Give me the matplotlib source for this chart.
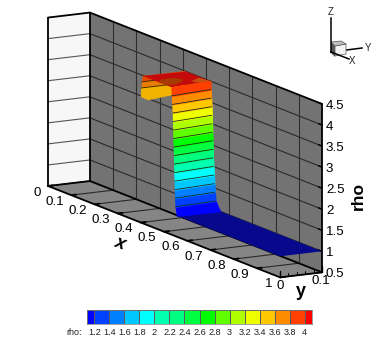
import matplotlib
matplotlib.use('Agg')
import matplotlib.pyplot as plt
from matplotlib.colors import ListedColormap
from mpl_toolkits.mplot3d import proj3d
from mpl_toolkits.mplot3d.art3d import Poly3DCollection

plt.rcParams['font.family'] = ['Liberation Sans', 'DejaVu Sans']

# axis ticks
x_ticks = [0, 0.1, 0.2, 0.3, 0.4, 0.5, 0.6, 0.7, 0.8, 0.9, 1]
x_labels = ['0', '0.1', '0.2', '0.3', '0.4', '0.5', '0.6', '0.7', '0.8', '0.9', '1']
y_minor = [0.02, 0.04, 0.06, 0.08]
z_ticks = [0.5, 1, 1.5, 2, 2.5, 3, 3.5, 4, 4.5]
z_labels = ['0.5', '1', '1.5', '2', '2.5', '3', '3.5', '4', '4.5']

# contour levels and legend
levels = [1.2, 1.4, 1.6, 1.8, 2, 2.2, 2.4, 2.6, 2.8, 3, 3.2, 3.4, 3.6, 3.8, 4]
level_labels = ['1.2', '1.4', '1.6', '1.8', '2', '2.2', '2.4', '2.6', '2.8', '3',
                '3.2', '3.4', '3.6', '3.8', '4']
bar_edges = [1.1] + levels + [4.1]
band_colors = ['#0000ff', '#0040ff', '#0080ff', '#00c8ff', '#00ffff', '#00ffb0',
               '#00ff80', '#00ff40', '#00ff00', '#60ff00', '#b0ff00', '#f0ff00',
               '#ffc800', '#ff8c00', '#ff4000', '#ff0000']

# the steep front: x position of each contour at both sides of the domain
wall_rho = [1.0] + levels
wall_x_y0 = [.556, .550, .548, .547, .546, .545, .544, .543, .542, .541, .540, .539, .538, .536, .534, .532]
wall_x_y1 = [.560, .541, .538, .536, .534, .532, .530, .529, .528, .527, .526, .525, .524, .522, .520, .519]

# flat state ahead of the front
sheet_x = [.556, 1.0]
sheet_rho = 1.0

# top plateau, rho = 4
plateau_x_y0 = [.408, .532]
plateau_x_y1 = [.416, .519]
patch_xy = [(.475, 0), (.458, .015), (.4545, .038), (.462, .052), (.476, .0575),
            (.497, .045), (.513, .02), (.513, .006), (.495, 0)]
patch2_xy = [(.50, .065), (.48, .095), (.52, .1), (.522, .07)]

# back side of the plateau, seen under its edge
back_rho = [4.0, 3.85, 3.7]
back_x = [.408, .404, .402]
back_colors = ['#e84800', '#e67c00', '#f0b400']

fig = plt.figure(figsize=(3.9, 3.47), dpi=100)
ax = fig.add_axes([-0.5, -0.5, 2, 2], projection='3d', computed_zorder=False)
ax.set_proj_type('ortho')
ax.view_init(elev=12.5, azim=-28.8)
ax.set_xlim(0, 1, view_margin=0)
ax.set_ylim(0, 0.1, view_margin=0)
ax.set_zlim(0.5, 4.5, view_margin=0)
ax.set_xticks([])
ax.set_yticks([])
ax.set_zticks([])
ax.set_axis_off()
ax.patch.set_visible(False)


def to_px(x, y, z):
    xs, ys, _ = proj3d.proj_transform(x, y, z, ax.get_proj())
    return ax.transData.transform((xs, ys))


# fit the box to the place it has in the reference
aspect = (483, 48, 173)
ax.set_box_aspect(aspect, zoom=1)
fig.canvas.draw()
a = to_px(0, 0, 0.5)
b = to_px(1, 0.1, 4.5)
ax.set_box_aspect(aspect, zoom=274 / (b[0] - a[0]))
fig.canvas.draw()
a = to_px(0, 0, 0.5)
ax.set_position([-0.5 + (48 - a[0]) / 390, -0.5 + (347 - 186 - a[1]) / 347, 2, 2])
fig.canvas.draw()

# overlay in pixels for texts and the orientation triad
ov = fig.add_axes([0, 0, 1, 1])
ov.set_xlim(0, 390)
ov.set_ylim(347, 0)
ov.axis('off')
ov.patch.set_visible(False)


def poly(verts, color, z, edge='none', lw=0):
    c = Poly3DCollection([verts], facecolors=color, edgecolors=edge, linewidths=lw, zorder=z)
    ax.add_collection3d(c)


def line(xs, ys, zs, color='k', lw=0.8, z=3):
    ax.plot(xs, ys, zs, color=color, lw=lw, zorder=z, solid_capstyle='round')


def label(x, y, z, s, dx, dy, **kw):
    p = to_px(x, y, z)
    ov.text(p[0] + dx, 347 - p[1] + dy, s, va='center', **kw)


# box faces
poly([(0, 0, .5), (0, .1, .5), (0, .1, 4.5), (0, 0, 4.5)], '#f7f7f7', 1)
poly([(0, .1, .5), (1, .1, .5), (1, .1, 4.5), (0, .1, 4.5)], '#737373', 1)
poly([(0, 0, .5), (1, 0, .5), (1, .1, .5), (0, .1, .5)], '#858585', 1)

# grid
for t in x_ticks[1:-1]:
    line([t, t], [.1, .1], [.5, 4.5], '#2e2e2e', 0.8, 2)
for t in x_ticks:
    line([t, t], [0, .1], [.5, .5], '#2a2a2a', 0.8, 2)
for t in z_ticks[1:-1]:
    line([0, 1], [.1, .1], [t, t], '#2a2a2a', 0.8, 2)
    line([0, 0], [0, .1], [t, t], '#555555', 0.8, 2)

# box outline
for xs, ys, zs in [([0, 0], [0, .1], [4.5, 4.5]), ([0, 0], [0, 0], [.5, 4.5]),
                   ([0, 0], [.1, .1], [.5, 4.5]), ([0, 0], [0, .1], [.5, .5]),
                   ([0, 1], [.1, .1], [4.5, 4.5]), ([0, 1], [.1, .1], [.5, .5]),
                   ([1, 1], [.1, .1], [.5, 4.5]), ([0, 1], [0, 0], [.5, .5]),
                   ([1, 1], [0, .1], [.5, .5])]:
    line(xs, ys, zs, 'k', 1.3, 3)

# ticks
for t in x_ticks:
    line([t, t], [0, .012], [.5, .5], 'k', 1.3, 3)
line([1, 1], [0, 0], [.5, .65], 'k', 1.0, 3)
line([1, 1], [.1, .1], [.5, .65], 'k', 1.0, 3)
for t in y_minor:
    line([1, 1], [t, t], [.5, .57], 'k', 0.7, 3)
for t in z_ticks:
    line([1, .985], [.1, .1], [t, t], 'k', 1.0, 3)

# solution surface: flat part
poly([(sheet_x[0], 0, sheet_rho), (sheet_x[1], 0, sheet_rho),
      (sheet_x[1], .1, sheet_rho), (wall_x_y1[0], .1, sheet_rho)], '#08088c', 4)

# back side of the plateau
for i in range(len(back_rho) - 1):
    poly([(back_x[i], 0, back_rho[i]), (back_x[i], .1, back_rho[i]),
          (back_x[i + 1], .1, back_rho[i + 1]), (back_x[i + 1], 0, back_rho[i + 1])],
         back_colors[i], 5, back_colors[i], 0.6)
poly([(back_x[2], 0, back_rho[2]), (back_x[2], .1, back_rho[2]), (.43, .09, 3.6), (.43, .052, 3.54),
      (.429, 0, 3.49), (.399, 0, 3.5)], back_colors[2], 5, back_colors[2], 0.6)
for i in range(1, len(back_rho)):
    line([back_x[i], back_x[i]], [0, .1], [back_rho[i], back_rho[i]], '#3a2a00', 0.6, 5.5)

# plateau
poly([(plateau_x_y0[0], 0, 4), (plateau_x_y0[1], 0, 4), (plateau_x_y1[1], .1, 4), (plateau_x_y1[0], .1, 4)],
     '#c40a0a', 6)
poly([(x, y, 4) for x, y in patch_xy], '#a83c00', 6.5)
poly([(x, y, 4) for x, y in patch2_xy], '#c85010', 6.5)

# the front, one quad per contour band
for i in range(len(wall_rho) - 1):
    poly([(wall_x_y0[i], 0, wall_rho[i]), (wall_x_y1[i], .1, wall_rho[i]),
          (wall_x_y1[i + 1], .1, wall_rho[i + 1]), (wall_x_y0[i + 1], 0, wall_rho[i + 1])],
         band_colors[i], 7, band_colors[i], 0.9)
for i in range(1, len(wall_rho) - 1):
    line([wall_x_y0[i], wall_x_y1[i]], [0, .1], [wall_rho[i], wall_rho[i]], '#1c2a1c', 0.6, 8)

# tick labels
for t, s in zip(x_ticks, x_labels):
    label(t, 0, .5, s, -7.5, 6.6, ha='right', fontsize=9.6)
label(1, 0, .5, '0', 0, 8.7, ha='center', fontsize=9.6)
label(1, .1, .5, '0.1', -1, 8.7, ha='center', fontsize=9.6)
for t, s in zip(z_ticks, z_labels):
    label(1, .1, t, s, 4, 2, ha='left', fontsize=9.6)

# axis titles
label(.4, 0, .5, 'x', -21, 21, fontsize=13, fontweight='bold', style='italic', rotation=-20, ha='center')
label(1, .05, .5, 'y', 0, 17, fontsize=13, fontweight='bold', ha='center')
label(1, .1, 2.5, 'rho', 36, 8, fontsize=12.5, fontweight='bold', rotation=90, ha='center')

# orientation triad
ov.fill([331, 335, 335, 331], [42, 46, 57, 53], color='#5a5a5a', lw=0, zorder=2)
ov.fill([335, 346, 346, 335], [46, 44, 54, 56], color='#f4f4f4', ec='#555555', lw=0.5, zorder=2)
ov.fill([331, 341, 346, 335], [42, 41, 44, 46], color='#bdbdbd', ec='#555555', lw=0.5, zorder=2)
ov.plot([331, 331], [18, 52], color='k', lw=1.1, zorder=3)
ov.plot([331, 362], [52, 48], color='k', lw=1.1, zorder=1)
ov.plot([331, 349], [52, 59], color='k', lw=1.1, zorder=3)
ov.text(331, 11.5, 'Z', fontsize=7, ha='center', va='center', color='#222222')
ov.text(368, 48, 'Y', fontsize=7, ha='center', va='center', color='#222222')
ov.text(352, 60.5, 'X', fontsize=7, ha='center', va='center', color='#222222')
ov.text(82, 332.3, 'rho:', fontsize=6.5, ha='right', va='center', color='#222222')

# contour legend
cax = fig.add_axes([86.7 / 390, (347 - 324) / 347, 225.6 / 390, 13.7 / 347])
cax.pcolormesh(bar_edges, [0, 1], [list(range(len(band_colors)))], cmap=ListedColormap(band_colors),
               edgecolors='#5a5a5a', linewidth=0.4)
cax.set_yticks([])
cax.set_xticks(levels)
cax.set_xticklabels(level_labels, fontsize=6.6, color='#222222')
cax.tick_params(axis='x', length=0, pad=3)
for sp in cax.spines.values():
    sp.set_color('#777777')
    sp.set_linewidth(0.5)

fig.savefig('out.png', dpi=100)
